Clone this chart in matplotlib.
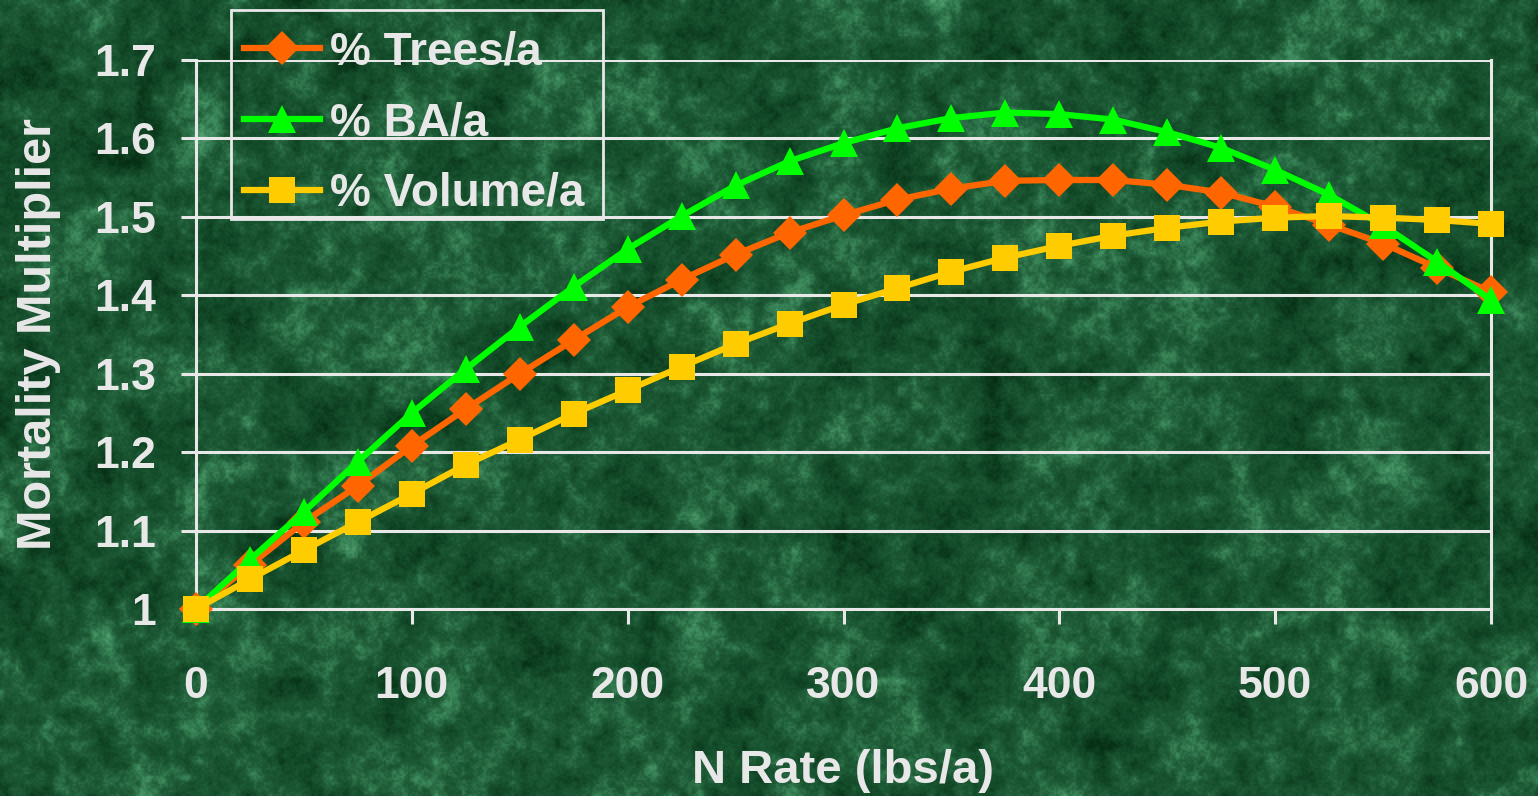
import matplotlib
matplotlib.use("Agg")
import numpy as np
import matplotlib.pyplot as plt
from matplotlib.colors import LinearSegmentedColormap
from matplotlib.patches import Rectangle

# N application rate (lbs/a)
n_rate = [0, 25, 50, 75, 100, 125, 150, 175, 200, 225, 250, 275, 300,
          325, 350, 375, 400, 425, 450, 475, 500, 525, 550, 575, 600]

# Mortality multipliers per response variable
trees_a = [1.000, 1.056, 1.111, 1.157, 1.208, 1.255, 1.300, 1.343, 1.385,
           1.420, 1.452, 1.480, 1.502, 1.522, 1.536, 1.546, 1.547, 1.547,
           1.541, 1.531, 1.513, 1.490, 1.466, 1.435, 1.404]
ba_a = [1.000, 1.063, 1.124, 1.188, 1.250, 1.306, 1.360, 1.411, 1.459,
        1.501, 1.540, 1.571, 1.594, 1.613, 1.626, 1.633, 1.631, 1.624,
        1.608, 1.588, 1.560, 1.528, 1.489, 1.443, 1.394]
volume_a = [1.000, 1.038, 1.075, 1.111, 1.147, 1.184, 1.216, 1.249, 1.279,
            1.309, 1.338, 1.364, 1.388, 1.409, 1.430, 1.448, 1.463, 1.476,
            1.486, 1.494, 1.499, 1.501, 1.499, 1.496, 1.491]

series_labels = ["% Trees/a", "% BA/a", "% Volume/a"]
x_ticks = [0, 100, 200, 300, 400, 500, 600]
y_ticks = [1.0, 1.1, 1.2, 1.3, 1.4, 1.5, 1.6, 1.7]
y_tick_labels = ["1", "1.1", "1.2", "1.3", "1.4", "1.5", "1.6", "1.7"]

TEXT = "#e8e8e8"
BG = "#1d5634"
W, H = 1538, 796


def upsample(a, shape):
    """Bilinear resize of a 2-D array to the given shape."""
    r = np.linspace(0, a.shape[0] - 1, shape[0])
    c = np.linspace(0, a.shape[1] - 1, shape[1])
    rows = np.array([np.interp(c, np.arange(a.shape[1]), row) for row in a])
    return np.array([np.interp(r, np.arange(a.shape[0]), col) for col in rows.T]).T


# green marble backdrop
rng = np.random.default_rng(7)
shape = (H // 2, W // 2)
layers = [(0.35, (16, 32)), (0.30, (50, 100)), (0.20, (140, 280)), (0.15, shape)]
tex = np.zeros(shape)
for weight, size in layers:
    tex += weight * upsample(rng.random(size), shape)
tex = (tex - tex.mean()) / tex.std()
tex = np.clip(0.42 + 0.13 * tex, 0, 1)
marble = LinearSegmentedColormap.from_list(
    "marble", ["#062e14", "#114726", "#1f5c38", "#3d8a5c", "#6cb58a"])

fig = plt.figure(figsize=(W / 100, H / 100), dpi=100, facecolor=BG)
bg = fig.add_axes([0, 0, 1, 1], zorder=-10)
bg.imshow(tex, cmap=marble, vmin=0, vmax=1, aspect="auto",
          interpolation="bilinear", extent=[0, 1, 0, 1])
bg.axis("off")

ax = fig.add_axes([196 / W, 1 - 609 / H, (1491 - 196) / W, (609 - 60) / H])
ax.set_facecolor("none")

styles = [
    (trees_a, "#ff6600", "D", 17),
    (ba_a, "#00ff00", "^", 20),
    (volume_a, "#ffcc00", "s", 19),
]
for (vals, color, marker, ms), label in zip(styles, series_labels):
    ax.plot(n_rate, vals, color=color, lw=4.5, marker=marker, ms=ms,
            markeredgewidth=0, label=label, clip_on=False, zorder=3)

ax.set_xlim(0, 600)
ax.set_ylim(1.0, 1.7)
ax.set_xticks(x_ticks)
ax.set_yticks(y_ticks)
ax.set_yticklabels(y_tick_labels)

ax.grid(axis="y", color=TEXT, lw=2.2, zorder=1)
ax.set_axisbelow(True)
for side in ["left", "right", "bottom"]:
    ax.spines[side].set_color(TEXT)
    ax.spines[side].set_linewidth(2.2)
ax.spines["top"].set_visible(False)

ax.tick_params(axis="both", colors=TEXT, width=2.2, length=11, direction="out")
ax.tick_params(axis="x", pad=30)
ax.tick_params(axis="y", pad=18)
for lbl in ax.get_xticklabels() + ax.get_yticklabels():
    lbl.set_fontfamily("Liberation Sans")
    lbl.set_fontweight("bold")
    lbl.set_fontsize(32)
    lbl.set_color(TEXT)

ax.set_xlabel("N Rate (lbs/a)", fontsize=34, fontweight="bold",
              color=TEXT, family="Liberation Sans")
ax.set_ylabel("Mortality Multiplier", fontsize=35, fontweight="bold",
              color=TEXT, family="Liberation Sans")
ax.xaxis.set_label_coords(0.5, -0.255)
ax.yaxis.set_label_coords(-0.104, 0.5)

# legend box drawn separately so the entries can sit freely inside it
fig.patches.append(Rectangle((231 / W, 1 - 219 / H), (603 - 231) / W, (219 - 10) / H,
                             transform=fig.transFigure, facecolor="none",
                             edgecolor=TEXT, lw=2.0, zorder=5))
leg = ax.legend(loc="center left", bbox_to_anchor=(244 / W, 1 - 123 / H),
                bbox_transform=fig.transFigure, frameon=False,
                prop={"family": "Liberation Sans", "weight": "bold", "size": 33},
                handlelength=1.65, handletextpad=0.22, borderpad=0,
                labelspacing=0.58, borderaxespad=0)
for t in leg.get_texts():
    t.set_color(TEXT)

fig.savefig("out.png", dpi=100, facecolor=BG)
